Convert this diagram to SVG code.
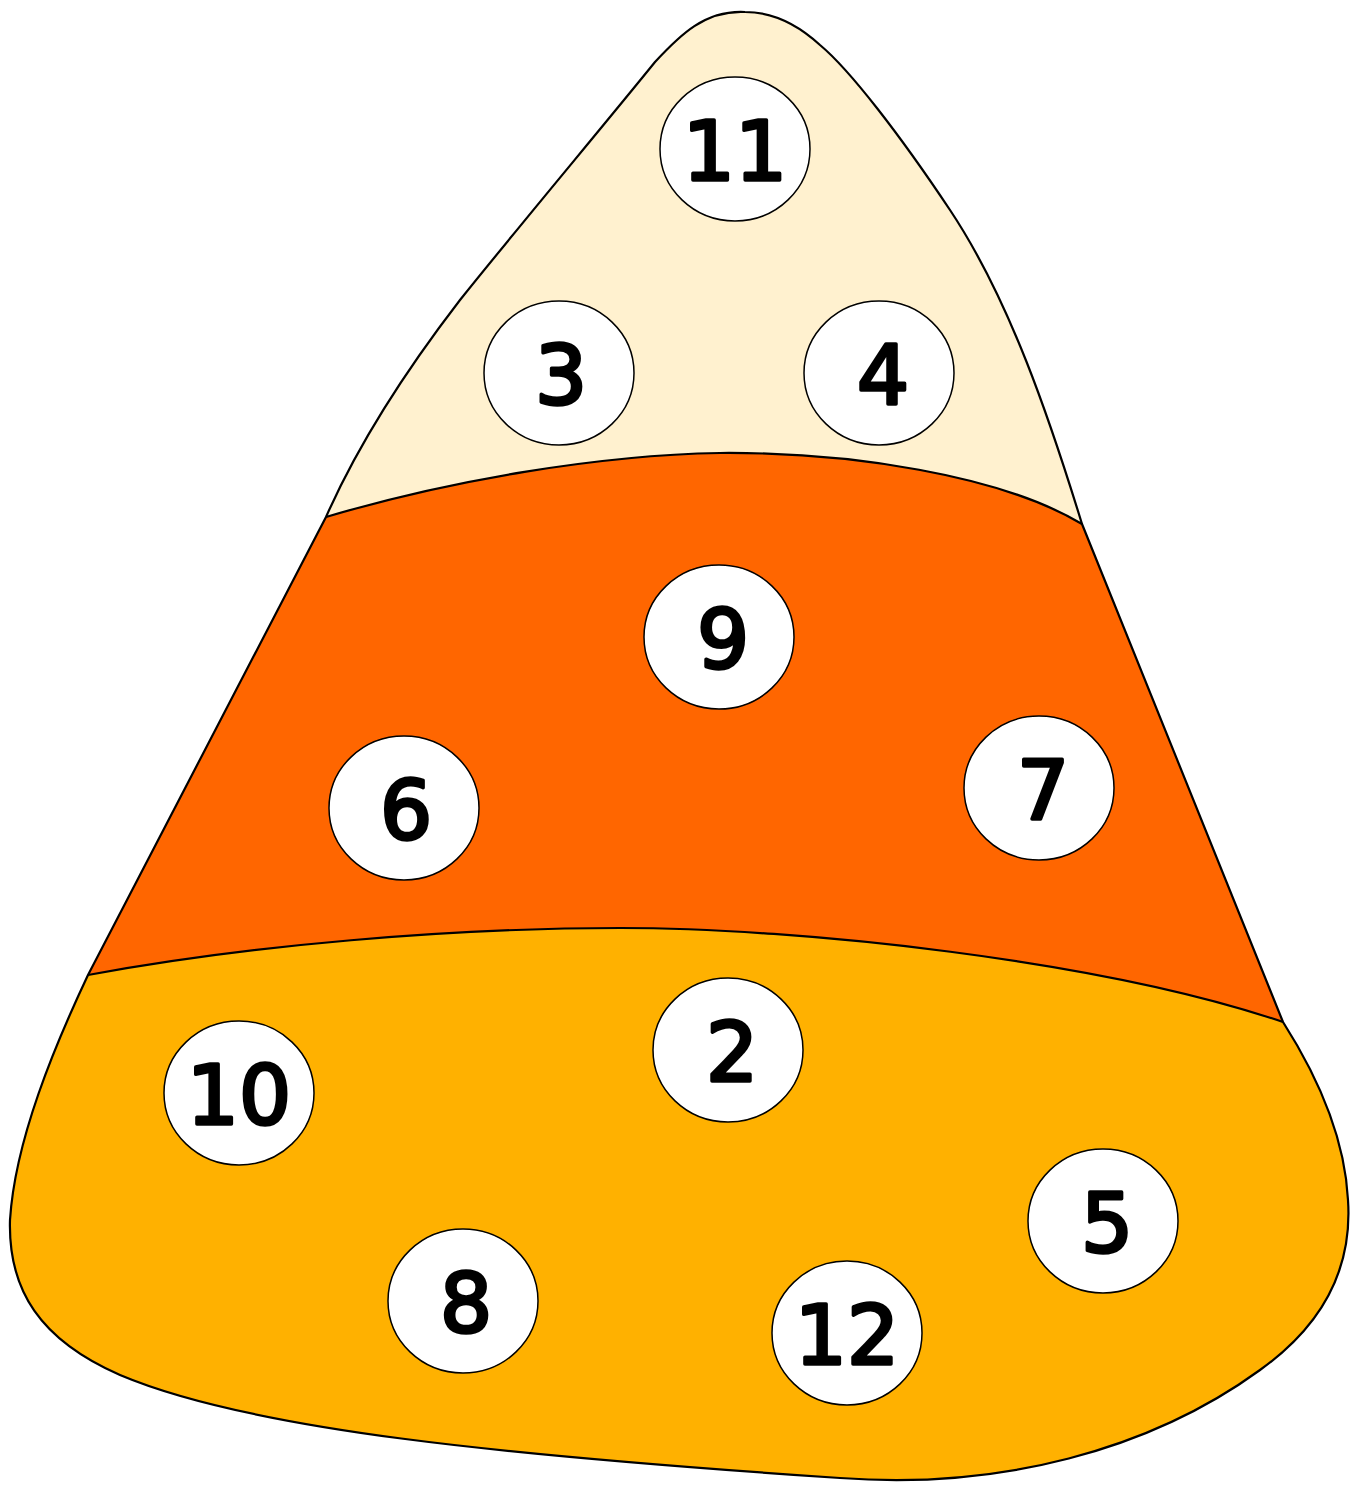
<svg xmlns="http://www.w3.org/2000/svg" width="1350" height="1487" viewBox="0 0 1350 1487">
<style>
.band{stroke:none}
.edge{fill:none;stroke:#000;stroke-width:2.2;stroke-linejoin:round}
.dot{fill:#fff;stroke:#000;stroke-width:1.5}
.num{font-family:"DejaVu Sans","Liberation Sans",sans-serif;font-weight:normal;font-size:82px;fill:#000;stroke:#000;stroke-width:3.5;stroke-linejoin:round;text-anchor:middle}
</style>
<defs>
<path id="outline" d="M 745,12 C 705,10 680,35 655,62 C 600,130 520,225 460,300 C 410,365 360,440 326,517 L 88,975 C 55,1045 15,1140 10,1220 C 8,1290 40,1340 120,1375 C 250,1430 500,1455 840,1478 C 1000,1490 1150,1450 1260,1370 C 1330,1320 1352,1260 1348,1200 C 1345,1140 1320,1080 1283,1022 L 1082,524 C 1050,420 1010,300 950,210 C 900,135 850,70 820,45 C 795,22 770,12 745,12 Z"/>
<clipPath id="clip"><use href="#outline"/></clipPath>
</defs>
<rect width="1350" height="1487" fill="#fff"/>
<g id="candy">
<use href="#outline" fill="#FFF1CF"/>
<g clip-path="url(#clip)">
<path class="band" fill="#FF6600" d="M 326,517 C 450,480 600,455 720,453 C 850,452 1000,475 1082,524 L 1400,524 L 1400,1500 L -50,1500 L -50,517 Z"/>
<path class="band" fill="#FFB100" d="M 88,975 C 250,945 450,928 620,928 C 800,928 1100,960 1283,1022 L 1400,1022 L 1400,1500 L -50,1500 L -50,975 Z"/>
</g>
<path class="edge" d="M 326,517 C 450,480 600,455 720,453 C 850,452 1000,475 1082,524"/>
<path class="edge" d="M 88,975 C 250,945 450,928 620,928 C 800,928 1100,960 1283,1022"/>
<use href="#outline" class="edge"/>
</g>
<g id="n11"><ellipse class="dot" cx="735" cy="149" rx="75" ry="72"/><text class="num" x="735" y="180">11</text></g>
<g id="n3"><ellipse class="dot" cx="559" cy="373" rx="75" ry="72"/><text class="num" x="561" y="404">3</text></g>
<g id="n4"><ellipse class="dot" cx="879" cy="373" rx="75" ry="72"/><text class="num" x="883" y="404">4</text></g>
<g id="n9"><ellipse class="dot" cx="719" cy="637" rx="75" ry="72"/><text class="num" x="723" y="668">9</text></g>
<g id="n6"><ellipse class="dot" cx="404" cy="808" rx="75" ry="72"/><text class="num" x="406" y="839">6</text></g>
<g id="n7"><ellipse class="dot" cx="1039" cy="788" rx="75" ry="72"/><text class="num" x="1043" y="819">7</text></g>
<g id="n2"><ellipse class="dot" cx="728" cy="1050" rx="75" ry="72"/><text class="num" x="732" y="1081">2</text></g>
<g id="n10"><ellipse class="dot" cx="239" cy="1093" rx="75" ry="72"/><text class="num" x="239" y="1124">10</text></g>
<g id="n5"><ellipse class="dot" cx="1103" cy="1221" rx="75" ry="72"/><text class="num" x="1107" y="1252">5</text></g>
<g id="n8"><ellipse class="dot" cx="463" cy="1301" rx="75" ry="72"/><text class="num" x="466" y="1332">8</text></g>
<g id="n12"><ellipse class="dot" cx="847" cy="1333" rx="75" ry="72"/><text class="num" x="847" y="1364">12</text></g>
</svg>
